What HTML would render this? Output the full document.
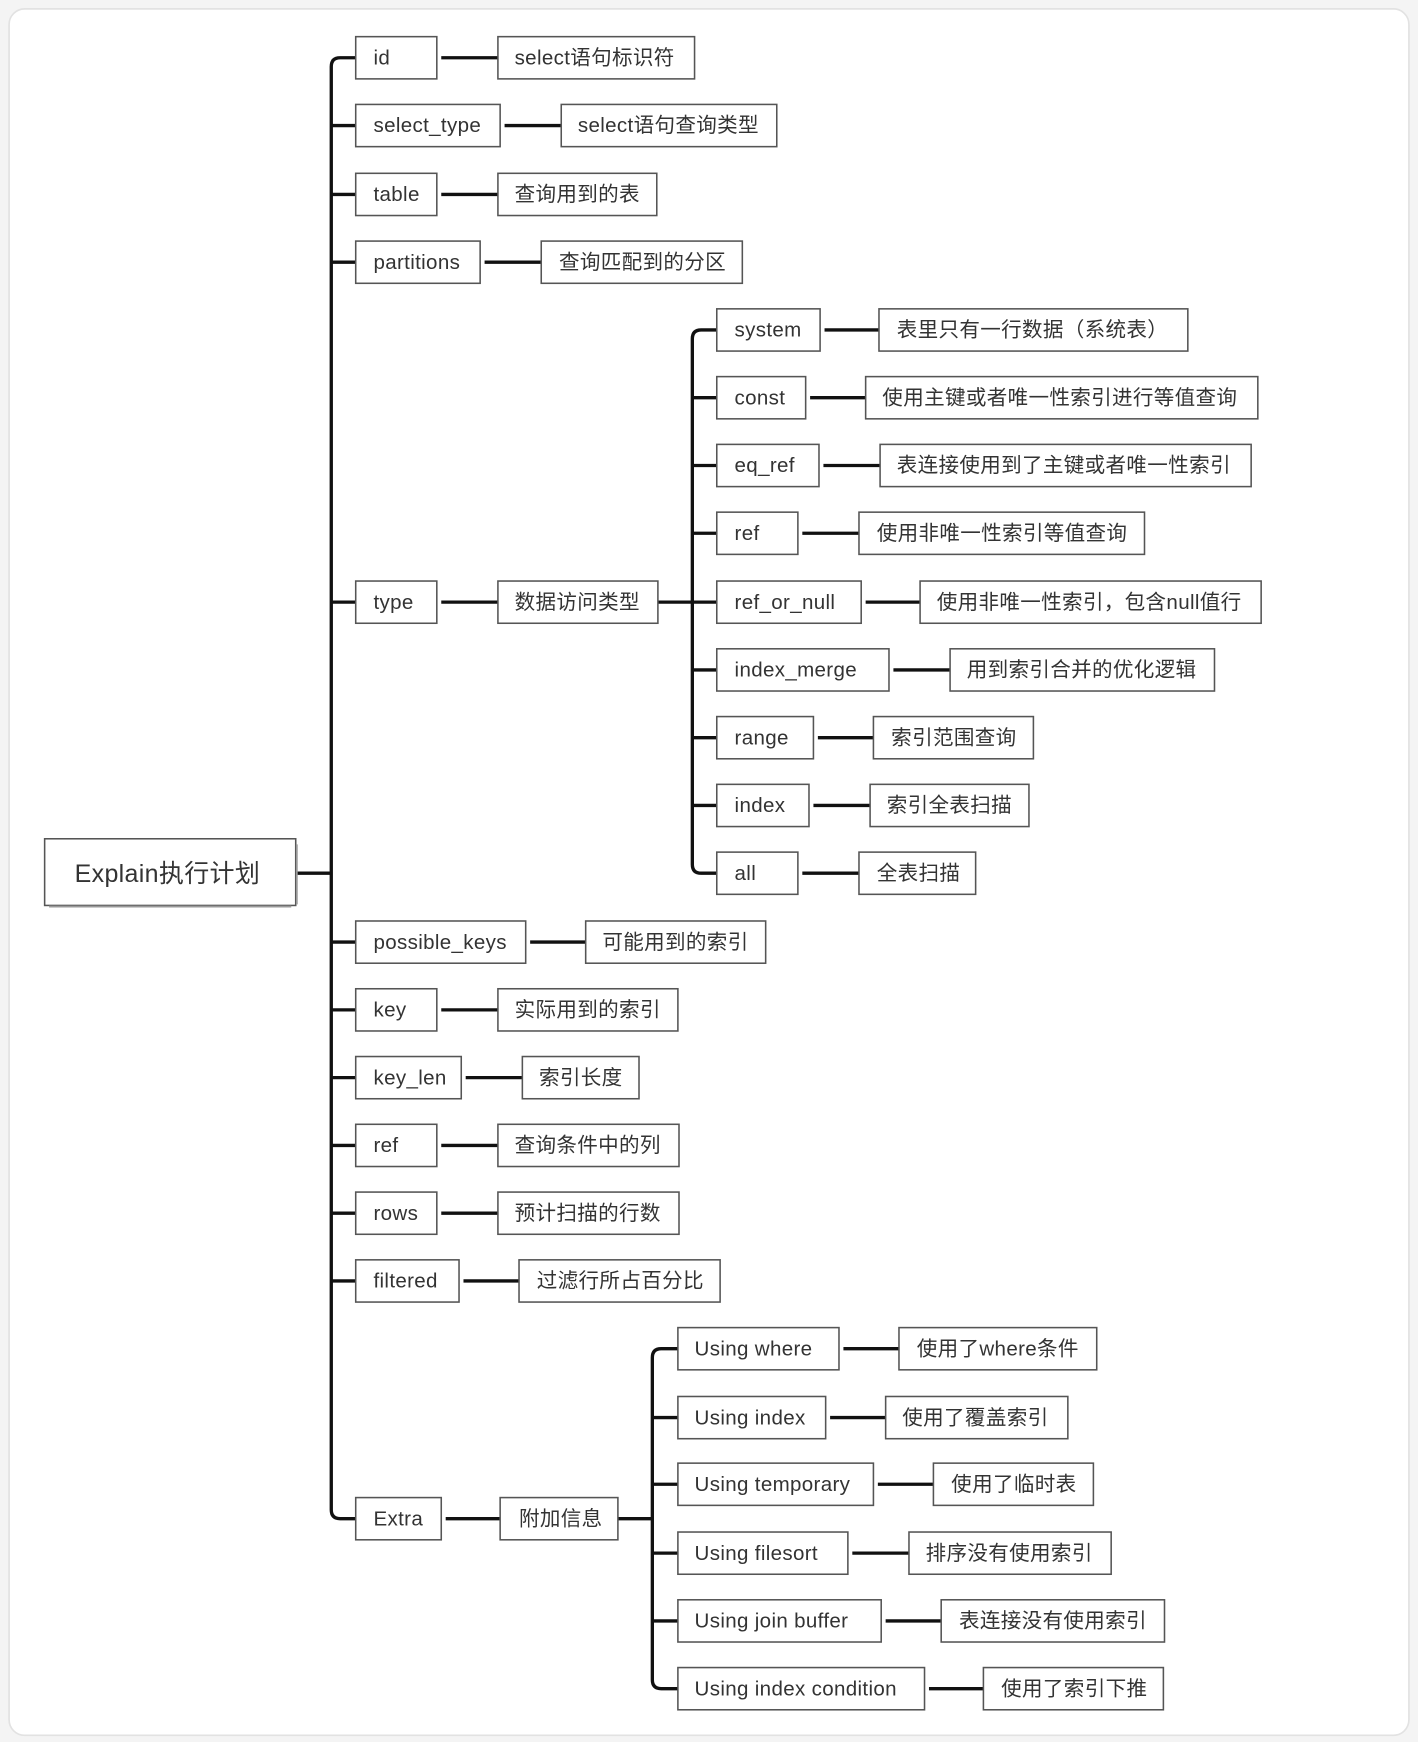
<!DOCTYPE html>
<html><head><meta charset="utf-8"><style>
html,body{margin:0;padding:0;background:#f4f4f4;}
svg{display:block;}
text{font-family:"Liberation Sans","Noto Sans CJK SC",sans-serif;font-size:18.5px;letter-spacing:0.3px;fill:#333;}
.b{fill:#fff;stroke:#555;stroke-width:1.4;}
.s{fill:none;stroke:#999;stroke-width:1.6;}
.l{fill:none;stroke:#111;stroke-width:3;}
</style></head><body>
<svg width="1418" height="1742" viewBox="0 0 1276 1568" xmlns="http://www.w3.org/2000/svg">
<rect x="8" y="8" width="1260" height="1554" rx="14" fill="#fff" stroke="#e2e2e2" stroke-width="1.5"/>
<path class="l" d="M320,52 H306 Q298,52 298,60 V1359 Q298,1367 306,1367 H320"/>
<path class="l" d="M266,786 H298 M298,113 H320 M298,175 H320 M298,236 H320 M298,542 H320 M298,848 H320 M298,909 H320 M298,970 H320 M298,1031 H320 M298,1092 H320 M298,1153 H320"/>
<path class="l" d="M645,297 H631 Q623,297 623,305 V778 Q623,786 631,786 H645"/>
<path class="l" d="M592,542 H645 M623,358 H645 M623,419 H645 M623,480 H645 M623,603 H645 M623,664 H645 M623,725 H645"/>
<path class="l" d="M610,1214 H595 Q587,1214 587,1222 V1512 Q587,1520 595,1520 H610"/>
<path class="l" d="M556,1367 H587 M587,1276 H610 M587,1336 H610 M587,1398 H610 M587,1459 H610"/>
<path class="l" d="M397,52 H448 M454,113 H505 M397,175 H448 M436,236 H487 M397,542 H448 M477,848 H527 M397,909 H448 M419,970 H470 M397,1031 H448 M397,1092 H448 M417,1153 H467 M401,1367 H450"/>
<path class="l" d="M742,297 H791 M729,358 H779 M741,419 H792 M722,480 H773 M779,542 H828 M804,603 H855 M736,664 H786 M732,725 H783 M722,786 H773"/>
<path class="l" d="M759,1214 H809 M747,1276 H797 M790,1336 H840 M767,1398 H818 M797,1459 H847 M836,1520 H885"/>

<rect class="b" x="40" y="755" width="226" height="60" stroke-width="2"/>
<path class="s" d="M44,816 H262 M267,760 V814"/>
<text x="67" y="794" style="font-size:22.5px">Explain执行计划</text>

<g>
<rect class="b" x="320" y="33" width="73" height="38"/><text x="336" y="58">id</text>
<rect class="b" x="448" y="33" width="177" height="38"/><text x="463" y="58">select语句标识符</text>
<rect class="b" x="320" y="94" width="130" height="38"/><text x="336" y="119">select_type</text>
<rect class="b" x="505" y="94" width="194" height="38"/><text x="520" y="119">select语句查询类型</text>
<rect class="b" x="320" y="156" width="73" height="38"/><text x="336" y="181">table</text>
<rect class="b" x="448" y="156" width="143" height="38"/><text x="463" y="181">查询用到的表</text>
<rect class="b" x="320" y="217" width="112" height="38"/><text x="336" y="242">partitions</text>
<rect class="b" x="487" y="217" width="181" height="38"/><text x="503" y="242">查询匹配到的分区</text>
<rect class="b" x="320" y="523" width="73" height="38"/><text x="336" y="548">type</text>
<rect class="b" x="448" y="523" width="144" height="38"/><text x="463" y="548">数据访问类型</text>
<rect class="b" x="320" y="829" width="153" height="38"/><text x="336" y="854">possible_keys</text>
<rect class="b" x="527" y="829" width="162" height="38"/><text x="542" y="854">可能用到的索引</text>
<rect class="b" x="320" y="890" width="73" height="38"/><text x="336" y="915">key</text>
<rect class="b" x="448" y="890" width="162" height="38"/><text x="463" y="915">实际用到的索引</text>
<rect class="b" x="320" y="951" width="95" height="38"/><text x="336" y="976">key_len</text>
<rect class="b" x="470" y="951" width="105" height="38"/><text x="485" y="976">索引长度</text>
<rect class="b" x="320" y="1012" width="73" height="38"/><text x="336" y="1037">ref</text>
<rect class="b" x="448" y="1012" width="163" height="38"/><text x="463" y="1037">查询条件中的列</text>
<rect class="b" x="320" y="1073" width="73" height="38"/><text x="336" y="1098">rows</text>
<rect class="b" x="448" y="1073" width="163" height="38"/><text x="463" y="1098">预计扫描的行数</text>
<rect class="b" x="320" y="1134" width="93" height="38"/><text x="336" y="1159">filtered</text>
<rect class="b" x="467" y="1134" width="181" height="38"/><text x="483" y="1159">过滤行所占百分比</text>
<rect class="b" x="320" y="1348" width="77" height="38"/><text x="336" y="1373">Extra</text>
<rect class="b" x="450" y="1348" width="106" height="38"/><text x="467" y="1373">附加信息</text>
</g>

<g>
<rect class="b" x="645" y="278" width="93" height="38"/><text x="661" y="303">system</text>
<rect class="b" x="791" y="278" width="278" height="38"/><text x="807" y="303">表里只有一行数据（系统表）</text>
<rect class="b" x="645" y="339" width="80" height="38"/><text x="661" y="364">const</text>
<rect class="b" x="779" y="339" width="353" height="38"/><text x="794" y="364">使用主键或者唯一性索引进行等值查询</text>
<rect class="b" x="645" y="400" width="92" height="38"/><text x="661" y="425">eq_ref</text>
<rect class="b" x="792" y="400" width="334" height="38"/><text x="807" y="425">表连接使用到了主键或者唯一性索引</text>
<rect class="b" x="645" y="461" width="73" height="38"/><text x="661" y="486">ref</text>
<rect class="b" x="773" y="461" width="257" height="38"/><text x="789" y="486">使用非唯一性索引等值查询</text>
<rect class="b" x="645" y="523" width="130" height="38"/><text x="661" y="548">ref_or_null</text>
<rect class="b" x="828" y="523" width="307" height="38"/><text x="843" y="548">使用非唯一性索引，包含null值行</text>
<rect class="b" x="645" y="584" width="155" height="38"/><text x="661" y="609">index_merge</text>
<rect class="b" x="855" y="584" width="238" height="38"/><text x="870" y="609">用到索引合并的优化逻辑</text>
<rect class="b" x="645" y="645" width="87" height="38"/><text x="661" y="670">range</text>
<rect class="b" x="786" y="645" width="144" height="38"/><text x="802" y="670">索引范围查询</text>
<rect class="b" x="645" y="706" width="83" height="38"/><text x="661" y="731">index</text>
<rect class="b" x="783" y="706" width="143" height="38"/><text x="798" y="731">索引全表扫描</text>
<rect class="b" x="645" y="767" width="73" height="38"/><text x="661" y="792">all</text>
<rect class="b" x="773" y="767" width="105" height="38"/><text x="789" y="792">全表扫描</text>
</g>

<g>
<rect class="b" x="610" y="1195" width="145" height="38"/><text x="625" y="1220">Using where</text>
<rect class="b" x="809" y="1195" width="178" height="38"/><text x="825" y="1220">使用了where条件</text>
<rect class="b" x="610" y="1257" width="133" height="38"/><text x="625" y="1282">Using index</text>
<rect class="b" x="797" y="1257" width="164" height="38"/><text x="812" y="1282">使用了覆盖索引</text>
<rect class="b" x="610" y="1317" width="176" height="38"/><text x="625" y="1342">Using temporary</text>
<rect class="b" x="840" y="1317" width="144" height="38"/><text x="856" y="1342">使用了临时表</text>
<rect class="b" x="610" y="1379" width="153" height="38"/><text x="625" y="1404">Using filesort</text>
<rect class="b" x="818" y="1379" width="182" height="38"/><text x="833" y="1404">排序没有使用索引</text>
<rect class="b" x="610" y="1440" width="183" height="38"/><text x="625" y="1465">Using join buffer</text>
<rect class="b" x="847" y="1440" width="201" height="38"/><text x="863" y="1465">表连接没有使用索引</text>
<rect class="b" x="610" y="1501" width="222" height="38"/><text x="625" y="1526">Using index condition</text>
<rect class="b" x="885" y="1501" width="162" height="38"/><text x="901" y="1526">使用了索引下推</text>
</g>
</svg>
</body></html>
